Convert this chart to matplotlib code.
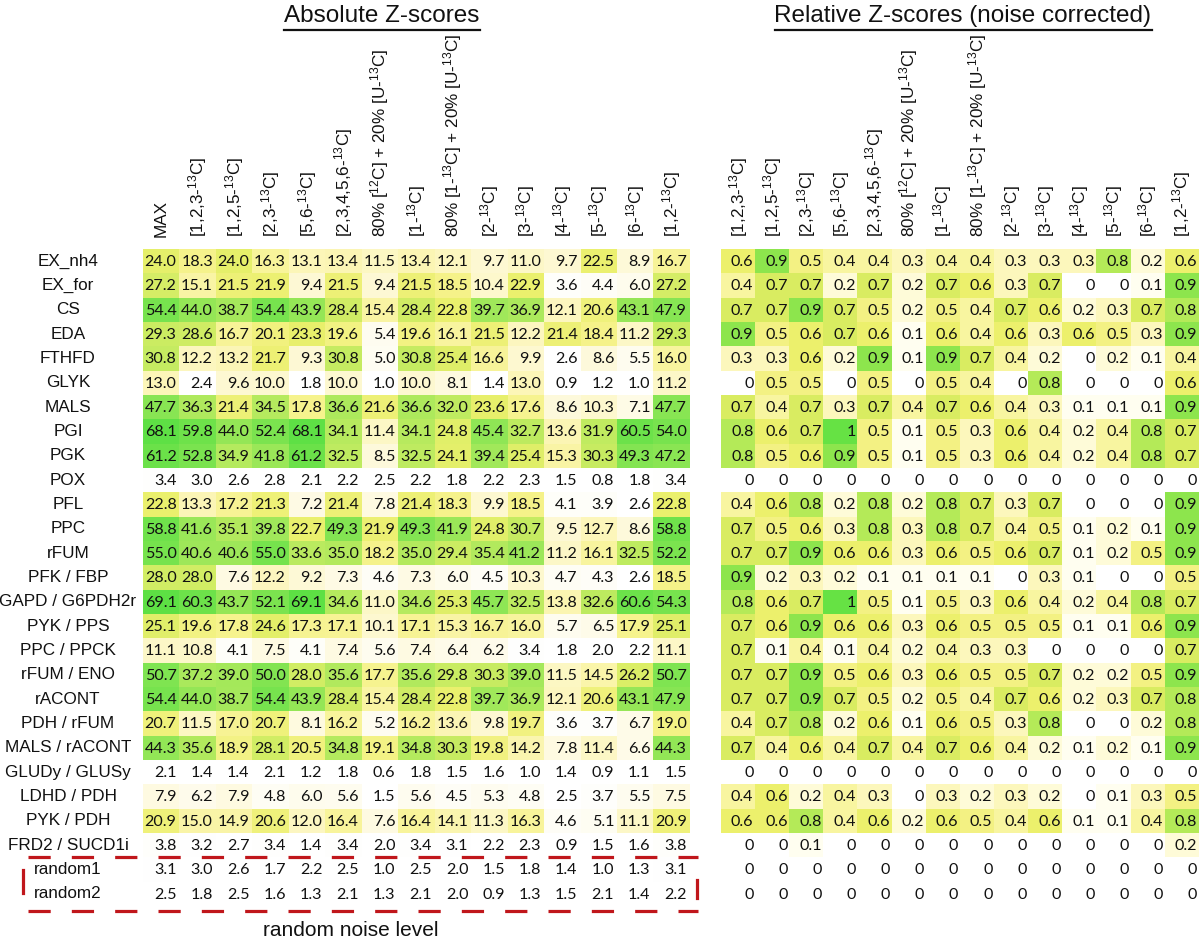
import matplotlib
matplotlib.use('Agg')
import matplotlib.pyplot as plt
import numpy as np
from matplotlib.colors import LinearSegmentedColormap, Normalize
from matplotlib.transforms import blended_transform_factory, ScaledTranslation
from matplotlib.lines import Line2D

plt.rcParams['font.family'] = ['Liberation Sans', 'DejaVu Sans']
plt.rcParams['mathtext.fontset'] = 'custom'
plt.rcParams['mathtext.rm'] = 'Liberation Sans'
plt.rcParams['mathtext.it'] = 'Liberation Sans:italic'
plt.rcParams['mathtext.bf'] = 'Liberation Sans:bold'
plt.rcParams['lines.scale_dashes'] = False

# ---------------- data ----------------
row_labels = ['EX_nh4', 'EX_for', 'CS', 'EDA', 'FTHFD', 'GLYK', 'MALS', 'PGI', 'PGK',
              'POX', 'PFL', 'PPC', 'rFUM', 'PFK / FBP', 'GAPD / G6PDH2r', 'PYK / PPS',
              'PPC / PPCK', 'rFUM / ENO', 'rACONT', 'PDH / rFUM', 'MALS / rACONT',
              'GLUDy / GLUSy', 'LDHD / PDH', 'PYK / PDH', 'FRD2 / SUCD1i',
              'random1', 'random2']

tracer_labels = [r'[1,2,3-$^{13}$C]', r'[1,2,5-$^{13}$C]', r'[2,3-$^{13}$C]',
                 r'[5,6-$^{13}$C]', r'[2,3,4,5,6-$^{13}$C]',
                 r'80% [$^{12}$C] + 20% [U-$^{13}$C]', r'[1-$^{13}$C]',
                 r'80% [1-$^{13}$C] + 20% [U-$^{13}$C]', r'[2-$^{13}$C]',
                 r'[3-$^{13}$C]', r'[4-$^{13}$C]', r'[5-$^{13}$C]', r'[6-$^{13}$C]',
                 r'[1,2-$^{13}$C]']
abs_col_labels = ['MAX'] + tracer_labels
rel_col_labels = tracer_labels

abs_scores = [
    [24.0, 18.3, 24.0, 16.3, 13.1, 13.4, 11.5, 13.4, 12.1, 9.7, 11.0, 9.7, 22.5, 8.9, 16.7],
    [27.2, 15.1, 21.5, 21.9, 9.4, 21.5, 9.4, 21.5, 18.5, 10.4, 22.9, 3.6, 4.4, 6.0, 27.2],
    [54.4, 44.0, 38.7, 54.4, 43.9, 28.4, 15.4, 28.4, 22.8, 39.7, 36.9, 12.1, 20.6, 43.1, 47.9],
    [29.3, 28.6, 16.7, 20.1, 23.3, 19.6, 5.4, 19.6, 16.1, 21.5, 12.2, 21.4, 18.4, 11.2, 29.3],
    [30.8, 12.2, 13.2, 21.7, 9.3, 30.8, 5.0, 30.8, 25.4, 16.6, 9.9, 2.6, 8.6, 5.5, 16.0],
    [13.0, 2.4, 9.6, 10.0, 1.8, 10.0, 1.0, 10.0, 8.1, 1.4, 13.0, 0.9, 1.2, 1.0, 11.2],
    [47.7, 36.3, 21.4, 34.5, 17.8, 36.6, 21.6, 36.6, 32.0, 23.6, 17.6, 8.6, 10.3, 7.1, 47.7],
    [68.1, 59.8, 44.0, 52.4, 68.1, 34.1, 11.4, 34.1, 24.8, 45.4, 32.7, 13.6, 31.9, 60.5, 54.0],
    [61.2, 52.8, 34.9, 41.8, 61.2, 32.5, 8.5, 32.5, 24.1, 39.4, 25.4, 15.3, 30.3, 49.3, 47.2],
    [3.4, 3.0, 2.6, 2.8, 2.1, 2.2, 2.5, 2.2, 1.8, 2.2, 2.3, 1.5, 0.8, 1.8, 3.4],
    [22.8, 13.3, 17.2, 21.3, 7.2, 21.4, 7.8, 21.4, 18.3, 9.9, 18.5, 4.1, 3.9, 2.6, 22.8],
    [58.8, 41.6, 35.1, 39.8, 22.7, 49.3, 21.9, 49.3, 41.9, 24.8, 30.7, 9.5, 12.7, 8.6, 58.8],
    [55.0, 40.6, 40.6, 55.0, 33.6, 35.0, 18.2, 35.0, 29.4, 35.4, 41.2, 11.2, 16.1, 32.5, 52.2],
    [28.0, 28.0, 7.6, 12.2, 9.2, 7.3, 4.6, 7.3, 6.0, 4.5, 10.3, 4.7, 4.3, 2.6, 18.5],
    [69.1, 60.3, 43.7, 52.1, 69.1, 34.6, 11.0, 34.6, 25.3, 45.7, 32.5, 13.8, 32.6, 60.6, 54.3],
    [25.1, 19.6, 17.8, 24.6, 17.3, 17.1, 10.1, 17.1, 15.3, 16.7, 16.0, 5.7, 6.5, 17.9, 25.1],
    [11.1, 10.8, 4.1, 7.5, 4.1, 7.4, 5.6, 7.4, 6.4, 6.2, 3.4, 1.8, 2.0, 2.2, 11.1],
    [50.7, 37.2, 39.0, 50.0, 28.0, 35.6, 17.7, 35.6, 29.8, 30.3, 39.0, 11.5, 14.5, 26.2, 50.7],
    [54.4, 44.0, 38.7, 54.4, 43.9, 28.4, 15.4, 28.4, 22.8, 39.7, 36.9, 12.1, 20.6, 43.1, 47.9],
    [20.7, 11.5, 17.0, 20.7, 8.1, 16.2, 5.2, 16.2, 13.6, 9.8, 19.7, 3.6, 3.7, 6.7, 19.0],
    [44.3, 35.6, 18.9, 28.1, 20.5, 34.8, 19.1, 34.8, 30.3, 19.8, 14.2, 7.8, 11.4, 6.6, 44.3],
    [2.1, 1.4, 1.4, 2.1, 1.2, 1.8, 0.6, 1.8, 1.5, 1.6, 1.0, 1.4, 0.9, 1.1, 1.5],
    [7.9, 6.2, 7.9, 4.8, 6.0, 5.6, 1.5, 5.6, 4.5, 5.3, 4.8, 2.5, 3.7, 5.5, 7.5],
    [20.9, 15.0, 14.9, 20.6, 12.0, 16.4, 7.6, 16.4, 14.1, 11.3, 16.3, 4.6, 5.1, 11.1, 20.9],
    [3.8, 3.2, 2.7, 3.4, 1.4, 3.4, 2.0, 3.4, 3.1, 2.2, 2.3, 0.9, 1.5, 1.6, 3.8],
    [3.1, 3.0, 2.6, 1.7, 2.2, 2.5, 1.0, 2.5, 2.0, 1.5, 1.8, 1.4, 1.0, 1.3, 3.1],
    [2.5, 1.8, 2.5, 1.6, 1.3, 2.1, 1.3, 2.1, 2.0, 0.9, 1.3, 1.5, 2.1, 1.4, 2.2],
]

rel_scores = [
    [0.6, 0.9, 0.5, 0.4, 0.4, 0.3, 0.4, 0.4, 0.3, 0.3, 0.3, 0.8, 0.2, 0.6],
    [0.4, 0.7, 0.7, 0.2, 0.7, 0.2, 0.7, 0.6, 0.3, 0.7, 0, 0, 0.1, 0.9],
    [0.7, 0.7, 0.9, 0.7, 0.5, 0.2, 0.5, 0.4, 0.7, 0.6, 0.2, 0.3, 0.7, 0.8],
    [0.9, 0.5, 0.6, 0.7, 0.6, 0.1, 0.6, 0.4, 0.6, 0.3, 0.6, 0.5, 0.3, 0.9],
    [0.3, 0.3, 0.6, 0.2, 0.9, 0.1, 0.9, 0.7, 0.4, 0.2, 0, 0.2, 0.1, 0.4],
    [0, 0.5, 0.5, 0, 0.5, 0, 0.5, 0.4, 0, 0.8, 0, 0, 0, 0.6],
    [0.7, 0.4, 0.7, 0.3, 0.7, 0.4, 0.7, 0.6, 0.4, 0.3, 0.1, 0.1, 0.1, 0.9],
    [0.8, 0.6, 0.7, 1, 0.5, 0.1, 0.5, 0.3, 0.6, 0.4, 0.2, 0.4, 0.8, 0.7],
    [0.8, 0.5, 0.6, 0.9, 0.5, 0.1, 0.5, 0.3, 0.6, 0.4, 0.2, 0.4, 0.8, 0.7],
    [0, 0, 0, 0, 0, 0, 0, 0, 0, 0, 0, 0, 0, 0],
    [0.4, 0.6, 0.8, 0.2, 0.8, 0.2, 0.8, 0.7, 0.3, 0.7, 0, 0, 0, 0.9],
    [0.7, 0.5, 0.6, 0.3, 0.8, 0.3, 0.8, 0.7, 0.4, 0.5, 0.1, 0.2, 0.1, 0.9],
    [0.7, 0.7, 0.9, 0.6, 0.6, 0.3, 0.6, 0.5, 0.6, 0.7, 0.1, 0.2, 0.5, 0.9],
    [0.9, 0.2, 0.3, 0.2, 0.1, 0.1, 0.1, 0.1, 0, 0.3, 0.1, 0, 0, 0.5],
    [0.8, 0.6, 0.7, 1, 0.5, 0.1, 0.5, 0.3, 0.6, 0.4, 0.2, 0.4, 0.8, 0.7],
    [0.7, 0.6, 0.9, 0.6, 0.6, 0.3, 0.6, 0.5, 0.5, 0.5, 0.1, 0.1, 0.6, 0.9],
    [0.7, 0.1, 0.4, 0.1, 0.4, 0.2, 0.4, 0.3, 0.3, 0, 0, 0, 0, 0.7],
    [0.7, 0.7, 0.9, 0.5, 0.6, 0.3, 0.6, 0.5, 0.5, 0.7, 0.2, 0.2, 0.5, 0.9],
    [0.7, 0.7, 0.9, 0.7, 0.5, 0.2, 0.5, 0.4, 0.7, 0.6, 0.2, 0.3, 0.7, 0.8],
    [0.4, 0.7, 0.8, 0.2, 0.6, 0.1, 0.6, 0.5, 0.3, 0.8, 0, 0, 0.2, 0.8],
    [0.7, 0.4, 0.6, 0.4, 0.7, 0.4, 0.7, 0.6, 0.4, 0.2, 0.1, 0.2, 0.1, 0.9],
    [0, 0, 0, 0, 0, 0, 0, 0, 0, 0, 0, 0, 0, 0],
    [0.4, 0.6, 0.2, 0.4, 0.3, 0, 0.3, 0.2, 0.3, 0.2, 0, 0.1, 0.3, 0.5],
    [0.6, 0.6, 0.8, 0.4, 0.6, 0.2, 0.6, 0.5, 0.4, 0.6, 0.1, 0.1, 0.4, 0.8],
    [0, 0, 0.1, 0, 0, 0, 0, 0, 0, 0, 0, 0, 0, 0.2],
    [0, 0, 0, 0, 0, 0, 0, 0, 0, 0, 0, 0, 0, 0],
    [0, 0, 0, 0, 0, 0, 0, 0, 0, 0, 0, 0, 0, 0],
]

# ---------------- styles ----------------
abs_anchors = [(0, '#FFFFFF'), (3, '#FFFFFF'), (8, '#FEFADF'), (13, '#FCF6B8'),
               (18, '#F6F38C'), (23, '#EAF06C'), (30, '#C8EC62'), (40, '#A0E85A'),
               (52, '#7CE450'), (70, '#5CE044')]
rel_anchors = [(0, '#FFFFFF'), (0.1, '#FFFEF0'), (0.2, '#FEFBD8'), (0.3, '#FCF7BC'),
               (0.4, '#F8F5A0'), (0.5, '#F4F284'), (0.6, '#ECF06C'), (0.7, '#DAED62'),
               (0.8, '#B4EA58'), (0.9, '#8EE64E'), (1.0, '#66E244')]


def make_cmap(anchors):
    vmax = anchors[-1][0]
    return (LinearSegmentedColormap.from_list('c', [(a / vmax, c) for a, c in anchors]),
            Normalize(0, vmax))


W, H = 1200, 943
fig = plt.figure(figsize=(W / 100, H / 100), dpi=100)

top_px, bot_px = 249, 906


def px_rect(x0, x1):
    return [x0 / W, 1 - bot_px / H, (x1 - x0) / W, (bot_px - top_px) / H]


ax_abs = fig.add_axes(px_rect(143, 690))
ax_rel = fig.add_axes(px_rect(721, 1199))

num_font = 'Lato'


def draw_table(ax, data, col_labels, anchors, fmt, pad):
    arr = np.array(data, dtype=float)
    nr, nc = arr.shape
    cmap, norm = make_cmap(anchors)
    ax.imshow(arr, cmap=cmap, norm=norm, aspect='auto', interpolation='nearest',
              extent=(-0.5, nc - 0.5, nr - 0.5, -0.5))
    ax.set_xlim(-0.5, nc - 0.5)
    ax.set_ylim(nr - 0.5, -0.5)
    ax.axis('off')
    for i in range(nr):
        for j in range(nc):
            ax.text(j + 0.5 - pad, i + 0.04, fmt(arr[i, j]), ha='right', va='center',
                    fontsize=11.6, family=num_font, color='#111111')
    off = ax.transData + ScaledTranslation(0, 0.12, fig.dpi_scale_trans)
    for j, lab in enumerate(col_labels):
        ax.text(j, -0.5, lab, rotation=90, ha='center', va='bottom',
                fontsize=12.3, transform=off, color='#111111')


draw_table(ax_abs, abs_scores, abs_col_labels, abs_anchors,
           lambda v: f'{v:.1f}', 0.08)


def rel_fmt(v):
    if v == 0:
        return '0'
    if v == 1:
        return '1'
    return f'{v:.1f}'


draw_table(ax_rel, rel_scores, rel_col_labels, rel_anchors, rel_fmt, 0.05)

# row labels
tr = blended_transform_factory(fig.transFigure, ax_abs.transData)
for i, lab in enumerate(row_labels):
    ax_abs.text(68 / W, i, lab, ha='center', va='center', fontsize=12.3,
                transform=tr, color='#111111')

# titles with underline
t1 = fig.text(382 / W, 1 - 16 / H, 'Absolute Z-scores', ha='center', va='center',
              fontsize=17.5, color='#111111')
t2 = fig.text(963 / W, 1 - 16 / H, 'Relative Z-scores (noise corrected)', ha='center',
              va='center', fontsize=17.5, color='#111111')
fig.canvas.draw()
r = fig.canvas.get_renderer()
for t in (t1, t2):
    bb = t.get_window_extent(r)
    fig.add_artist(Line2D([bb.x0 / W, bb.x1 / W], [1 - 30 / H, 1 - 30 / H],
                          transform=fig.transFigure, color='#111111', lw=1.6))

# red dashed box (random noise level)
red = '#C0161B'
for y in (857, 911):
    fig.add_artist(Line2D([28 / W, 698 / W], [1 - y / H, 1 - y / H],
                          transform=fig.transFigure, color=red, lw=2.3,
                          linestyle=(0, (16, 15.2)), solid_capstyle='butt',
                          dash_capstyle='butt'))
fig.add_artist(Line2D([23 / W, 23 / W], [1 - 870 / H, 1 - 893 / H],
                      transform=fig.transFigure, color=red, lw=2.3))
fig.add_artist(Line2D([697 / W, 697 / W], [1 - 880 / H, 1 - 898 / H],
                      transform=fig.transFigure, color=red, lw=2.3))
fig.text(351 / W, 1 - 930 / H, 'random noise level', ha='center', va='center',
         fontsize=15, color='#111111')

fig.savefig('out.png', dpi=100, facecolor='white')
